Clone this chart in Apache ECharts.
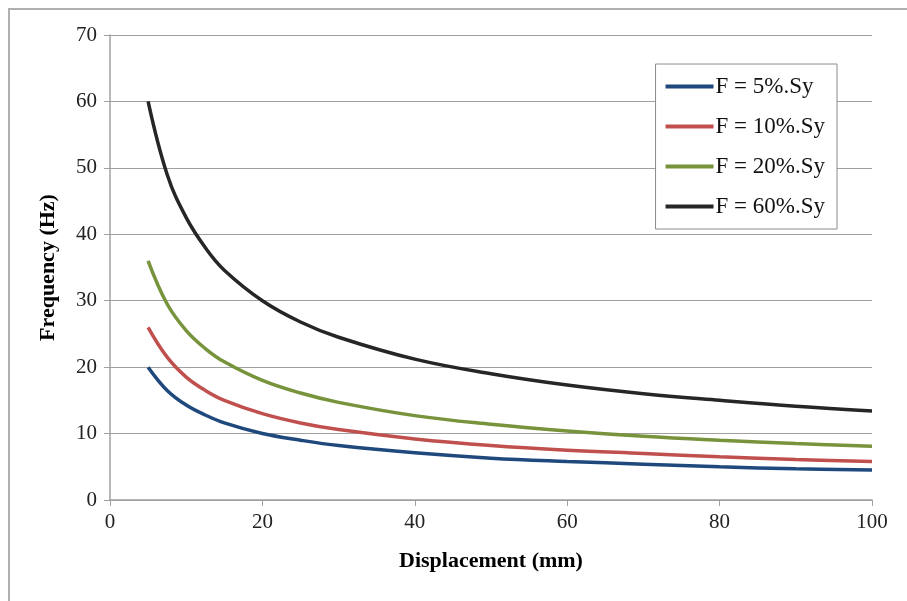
<!DOCTYPE html>
<html><head><meta charset="utf-8">
<script src="https://cdn.jsdelivr.net/npm/echarts@6/dist/echarts.min.js"></script>
<style>html,body{margin:0;padding:0;background:#fff}#c{width:907px;height:601px}</style>
</head><body><div id="c"></div>
<script>
var displacement = [5, 7.5, 10, 12.5, 15, 20, 25, 30, 40, 50, 60, 70, 80, 90, 100];
var f5  = [20, 16.5, 14.3, 12.8, 11.6, 10.0, 9.0, 8.2, 7.1, 6.3, 5.8, 5.4, 5.0, 4.7, 4.5];
var f10 = [26, 21.5, 18.5, 16.5, 15.0, 13.0, 11.6, 10.6, 9.2, 8.2, 7.5, 7.0, 6.5, 6.1, 5.8];
var f20 = [36, 29.5, 25.5, 22.8, 20.8, 18.0, 16.1, 14.7, 12.7, 11.4, 10.4, 9.6, 9.0, 8.5, 8.1];
var f60 = [60, 49, 42.5, 38, 34.6, 30.0, 26.8, 24.5, 21.2, 19.0, 17.3, 16.0, 15.0, 14.1, 13.4];
var seriesNames = ['F = 5%.Sy', 'F = 10%.Sy', 'F = 20%.Sy', 'F = 60%.Sy'];
var colors = ['#1f497d', '#c0504d', '#77933c', '#262626'];

function pairs(ys){ return displacement.map(function(x,i){ return [x, ys[i]]; }); }
var font = '"Liberation Serif", "Times New Roman", serif';
var chart = echarts.init(document.getElementById('c'));
var data = [f5, f10, f20, f60];
chart.setOption({
  animation: false,
  backgroundColor: '#fff',
  graphic: [{type:'rect', shape:{x:9, y:9, width:910, height:600}, style:{fill:'none', stroke:'#b0b0b0', lineWidth:2}, z:-1}],
  grid: {left:110, right:35, top:35, bottom:101},
  legend: {
    orient:'vertical', right:70, top:64, padding:[11,12,11,10], itemGap:17,
    backgroundColor:'#fff', borderColor:'#8c8c8c', borderWidth:1,
    itemWidth:48, itemHeight:4,
    textStyle:{fontFamily:font, fontSize:23, color:'#111', padding:[0,0,0,-3]},
    data: seriesNames.map(function(n){ return {name:n, icon:'rect'}; })
  },
  xAxis: {
    type:'value', min:0, max:100, interval:20,
    name:'Displacement (mm)', nameLocation:'middle', nameGap:50,
    nameTextStyle:{fontFamily:font, fontSize:22, fontWeight:'bold', color:'#000'},
    axisLine:{show:true, lineStyle:{color:'#a0a0a0', width:1.5}},
    axisTick:{show:true, length:6, lineStyle:{color:'#a0a0a0'}},
    axisLabel:{fontFamily:font, fontSize:21, color:'#222', margin:12},
    splitLine:{show:false}
  },
  yAxis: {
    type:'value', min:0, max:70, interval:10,
    name:'Frequency (Hz)', nameLocation:'middle', nameGap:51,
    nameTextStyle:{fontFamily:font, fontSize:22, fontWeight:'bold', color:'#000'},
    axisLine:{show:true, lineStyle:{color:'#a0a0a0', width:1.5}},
    axisTick:{show:true, length:6, lineStyle:{color:'#a0a0a0'}},
    axisLabel:{fontFamily:font, fontSize:21, color:'#222', margin:13},
    splitLine:{show:true, lineStyle:{color:'#a0a0a0', width:1.2}}
  },
  series: data.map(function(d,i){
    return {name:seriesNames[i], type:'line', data:pairs(d), smooth:0.4, showSymbol:false,
      lineStyle:{color:colors[i], width:3.5}, itemStyle:{color:colors[i]}};
  })
});
</script></body></html>
